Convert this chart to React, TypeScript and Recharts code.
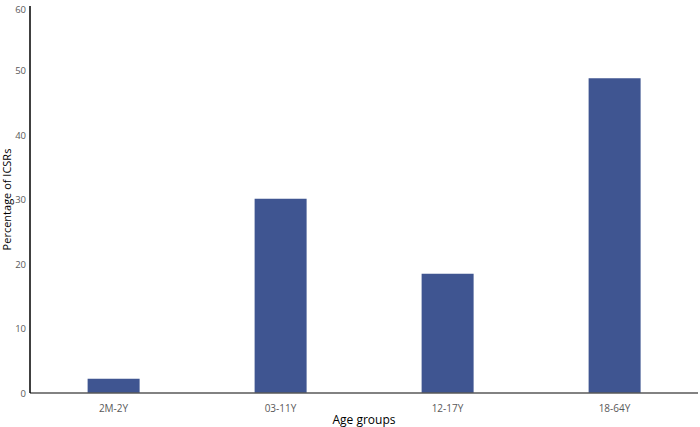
import { BarChart, Bar, XAxis, YAxis } from "recharts";

// age groups and share of ICSRs (%)
const groups = ["2M-2Y", "03-11Y", "12-17Y", "18-64Y"];
const percents = [2.2, 30.1, 18.5, 48.8];
const yTicks = [0, 10, 20, 30, 40, 50, 60];

const data = groups.map((g, i) => ({ group: g, value: percents[i] }));

const TICK = { fontSize: 10, fill: "#595959", fontFamily: "Open Sans" };

function YTick({ x, y, payload }: any) {
  return (
    <text x={x} y={y} dx={3} dy={3.5} textAnchor="end" fontSize={9.5} fill="#595959" fontFamily="Open Sans">
      {payload.value}
    </text>
  );
}

export default function App() {
  return (
    <div style={{ position: "fixed", top: 0, left: 0, width: 700, height: 427, background: "#fff" }}>
      <BarChart
        width={700}
        height={427}
        data={data}
        margin={{ top: 6, right: 2, bottom: 0, left: 0 }}
        barCategoryGap="34.5%"
      >
        <XAxis
          dataKey="group"
          tick={TICK}
          tickLine={false}
          axisLine={{ stroke: "#595959", strokeWidth: 1.5 }}
          height={34}
          tickMargin={6}
          label={{
            value: "Age groups",
            position: "insideBottom",
            offset: 3,
            fontSize: 12,
            fill: "#000",
            fontFamily: "Open Sans",
          }}
        />
        <YAxis
          domain={[0, 60]}
          ticks={yTicks}
          width={30}
          tick={<YTick />}
          tickLine={false}
          axisLine={{ stroke: "#000", strokeWidth: 1.5 }}
          tickMargin={1}
          label={{
            value: "Percentage of ICSRs",
            angle: -90,
            position: "insideLeft",
            offset: 7.5,
            style: { textAnchor: "middle" },
            fontSize: 11,
            fill: "#000",
            fontFamily: "Open Sans",
          }}
        />
        <Bar dataKey="value" fill="#3F5591" isAnimationActive={false} />
      </BarChart>
    </div>
  );
}
